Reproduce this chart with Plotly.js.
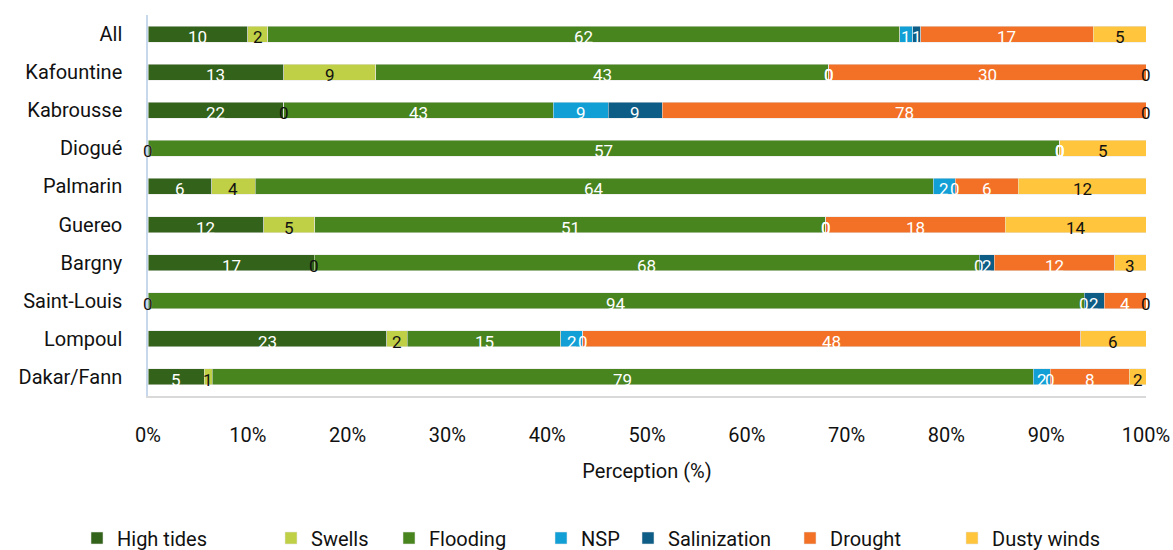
<!DOCTYPE html>
<html>
<head>
<meta charset="utf-8">
<script src="https://cdn.plot.ly/plotly-3.0.1.min.js"></script>
<style>html,body{margin:0;padding:0;background:#fff;}#chart{width:1173px;height:550px;}</style>
</head>
<body>
<div id="chart"></div>
<script>
// Values (labels show them rounded; bars are normalised to 100%)
const sites = ["All","Kafountine","Kabrousse","Diogué","Palmarin","Guereo","Bargny","Saint-Louis","Lompoul","Dakar/Fann"];
const highTides   = [9.8, 12.9, 21.8, 0,    6.0,  11.6, 17.0, 0,    23.0, 5.4];
const swells      = [1.96, 8.7, 0,    0,    4.1,  5.1,  0,    0,    2.0,  0.77];
const flooding    = [62.0, 43.0, 43.4, 57.2, 64.0, 51.2, 68.0, 93.8, 14.8, 79.0];
const nsp         = [1.27, 0,    8.8,  0,    2.1,  0,    0,    0,    2.1,  1.63];
const salinization= [0.78, 0,    8.7,  0,    0,    0,    1.55, 2.0,  0,    0];
const drought     = [16.9, 30.1, 77.8, 0,    5.95, 18.0, 12.3, 4.2,  48.0, 7.63];
const dustyWinds  = [5.2,  0,    0,    5.4,  12.05,14.1, 3.2,  0,    6.3,  1.6];
const xTicks = [0,10,20,30,40,50,60,70,80,90,100];

const series = [
  {name:"High tides", v:highTides, color:"#33621a", label:"#ffffff"},
  {name:"Swells", v:swells, color:"#bfcf46", label:"#111111"},
  {name:"Flooding", v:flooding, color:"#48851f", label:"#ffffff"},
  {name:"NSP", v:nsp, color:"#119fd6", label:"#ffffff"},
  {name:"Salinization", v:salinization, color:"#0d5d86", label:"#ffffff"},
  {name:"Drought", v:drought, color:"#f27127", label:"#ffffff"},
  {name:"Dusty winds", v:dustyWinds, color:"#fec53d", label:"#111111"}
];
const legendSquareLeft = [91,285,403,555,642,804,966];

const font = "Roboto, 'DejaVu Sans', sans-serif";
const plotL = 148, plotW = 998, plotT = 15, plotB = 396;
const traces = series.map((s,i)=>({
  type:"bar", orientation:"h", name:s.name, x:s.v, y:sites,
  marker:{color:s.color, line:{width:0.6, color:"rgba(230,230,230,0.9)"}},
  hoverinfo:"x+y+name",
  legend: i===0 ? "legend" : "legend"+(i+1)
}));

const totals = sites.map((_,j)=>series.reduce((a,s)=>a+s.v[j],0));
const annotations = [];
sites.forEach((site,j)=>{
  let cum = 0;
  series.forEach(s=>{
    const v = s.v[j];
    const mid = (cum + v/2)/totals[j]*100;
    cum += v;
    annotations.push({x:mid, y:site, xref:"x", yref:"y", text:String(Math.round(v)), showarrow:false,
      yshift:-3, font:{family:font, size:17, color:s.label}});
  });
});

const layout = {
  width:1173, height:550,
  margin:{l:plotL, r:1173-plotL-plotW, t:plotT, b:550-plotB, autoexpand:false},
  barmode:"stack", barnorm:"percent", bargap:0.58,
  paper_bgcolor:"#fff", plot_bgcolor:"#fff",
  font:{family:font, size:20, color:"#111"},
  xaxis:{range:[0,100], tickvals:xTicks, ticktext:xTicks.map(t=>t+"%"), showgrid:false, zeroline:false,
    showline:true, linecolor:"#d9d9d9", linewidth:2, ticks:"", ticklabelstandoff:20, automargin:false,
    tickfont:{family:font, size:20, color:"#111"},
    title:{text:"Perception (%)", font:{family:font, size:20, color:"#111"}, standoff:18}, fixedrange:true},
  yaxis:{autorange:"reversed", showgrid:false, zeroline:false, showline:true, linecolor:"#c8d8ec", linewidth:1.5,
    ticks:"", ticklabelstandoff:20, automargin:false, tickfont:{family:font, size:20, color:"#111"}, fixedrange:true},
  annotations:annotations,
  showlegend:true
};
const legendY = (plotB-538)/(plotB-plotT);
legendSquareLeft.forEach((sq,i)=>{
  const key = i===0 ? "legend" : "legend"+(i+1);
  layout[key] = {orientation:"h", x:(sq-14-plotL)/plotW, xanchor:"left", y:legendY, yanchor:"middle",
    font:{family:font, size:20, color:"#111"}, bgcolor:"rgba(0,0,0,0)", itemclick:false, itemdoubleclick:false};
});

Plotly.newPlot("chart", traces, layout, {displayModeBar:false});
</script>
</body>
</html>
